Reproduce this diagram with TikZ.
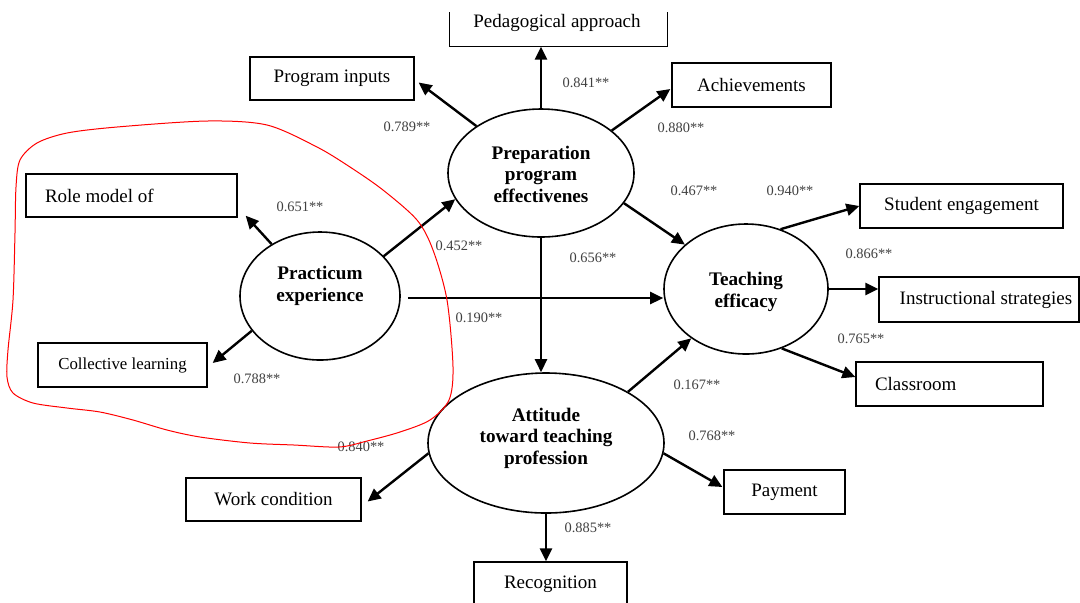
\documentclass[tikz,border=0pt]{standalone}
\usepackage{fontspec}
\setmainfont{Liberation Serif}
\usetikzlibrary{shapes.geometric,arrows.meta,calc}
\begin{document}
\begin{tikzpicture}[x=0.5pt,y=-0.5pt,
  box/.style={draw, line width=0.65pt, inner sep=0pt, font=\fontsize{9.5}{11}\selectfont},
  latent/.style={draw, ellipse, line width=0.8pt, inner sep=0pt},
  lattext/.style={align=center, inner sep=0pt, font=\fontsize{9.6}{10.75}\selectfont\bfseries},
  coef/.style={font=\fontsize{7.2}{8}\selectfont, text=black!75, inner sep=0pt},
  arr/.style={line width=1.2pt, -{Triangle[length=6.5pt,width=6pt]}},
  outline/.style={red, line width=0.5pt}]
\useasboundingbox (0,0) rectangle (1080,602);

% indicator boxes
\node[box, draw=none, minimum width=108.5pt, minimum height=16.5pt] (ped) at (558.5,29.5) {};
\draw[line width=0.65pt] (ped.north west) -- (ped.south west) -- (ped.south east) -- (ped.north east);
\node[font=\fontsize{9.5}{11}\selectfont, inner sep=0pt] (pedtxt) at (557,23) {Pedagogical approach};
\node[box, minimum width=82pt, minimum height=21.5pt] (pi) at (332,78.5) {Program inputs};
\node[box, minimum width=79.5pt, minimum height=22pt] (ach) at (751.5,85) {Achievements};
\node[box, text width=86.5pt, inner xsep=9.5pt, align=flush left, minimum height=21.5pt] (rm) at (131.5,195.5) {Role model of};
\node[box, minimum width=84.5pt, minimum height=22pt, font=\fontsize{8.4}{10}\selectfont] (cl) at (122.5,365) {Collective learning};
\node[box, minimum width=101.5pt, minimum height=22pt] (se) at (961.5,206) {Student engagement};
\node[box, minimum width=100pt, minimum height=22.5pt] (is) at (979,299.5) {\hspace*{7pt}Instructional strategies};
\node[box, text width=74.5pt, inner xsep=9.5pt, align=flush left, minimum height=22pt] (cr) at (949.5,384) {Classroom};
\node[box, minimum width=87.5pt, minimum height=21.5pt] (wc) at (273.5,499.5) {Work condition};
\node[box, minimum width=60.5pt, minimum height=22pt] (pay) at (784.5,492) {Payment};
\node[box, minimum width=76.5pt, minimum height=22pt] (rec) at (550.5,584) {Recognition};

% latent constructs
\node[latent, minimum width=80pt, minimum height=64pt] (pe) at (320,296) {};
\node[lattext] (pet) at (320,286) {Practicum\\experience};
\node[latent, minimum width=93pt, minimum height=64pt] (pp) at (541,173) {};
\node[lattext] (ppt) at (541,174) {Preparation\\program\\effectivenes};
\node[latent, minimum width=82pt, minimum height=65pt] (te) at (746,289) {};
\node[lattext] (tet) at (746,292) {Teaching\\efficacy};
\node[latent, minimum width=118pt, minimum height=70pt] (at) at (546,443) {};
\node[lattext] (att) at (546,438) {Attitude\\toward teaching\\profession};

% paths
\draw[arr] (pp.north) -- (pp.north |- ped.south);
\draw[arr] (pp.144) -- ($(pi.east)+(4,4)$);
\draw[arr] (pp.31) -- ($(ach.west)+(-1,4)$);
\draw[arr] (pp.340) -- (te.144);
\draw[arr] (pp.south) -- (pp.south |- at.north);

\draw[arr] (pe.133) -- ($(rm.south east)+(8,-2)$);
\draw[arr] (pe.207) -- ($(cl.east)+(5,-2)$);
\draw[arr] (pe.32) -- (pp.197);
\coordinate (pes) at ($(pe.east)+(7,2)$);
\draw[arr] (pes) -- (pes -| te.west);

\draw[arr] (te.60) -- (se.west);
\draw[arr] (te.east) -- (te.east -| is.west);
\draw[arr] (te.301) -- ($(cr.west)+(0,-7)$);

\draw[arr] (at.32) -- (te.222);
\draw[arr] (at.185) -- ($(wc.east)+(6,2)$);
\draw[arr] (at.355) -- ($(pay.west)+(-1,-5)$);
\draw[arr] (at.south) -- (at.south |- rec.north);

% coefficients
\node[coef] (c1) at (407,127) {0.789**};
\node[coef] (c2) at (586,83) {0.841**};
\node[coef] (c3) at (681,128) {0.880**};
\node[coef] (c4) at (300,207) {0.651**};
\node[coef] (c5) at (459,246) {0.452**};
\node[coef] (c6) at (593,258) {0.656**};
\node[coef] (c7) at (694,191) {0.467**};
\node[coef] (c8) at (790,191) {0.940**};
\node[coef] (c9) at (869,254) {0.866**};
\node[coef] (c10) at (479,318) {0.190**};
\node[coef] (c11) at (257,379) {0.788**};
\node[coef] (c12) at (861,339) {0.765**};
\node[coef] (c13) at (697,385) {0.167**};
\node[coef] (c14) at (361,447) {0.840**};
\node[coef] (c15) at (712,436) {0.768**};
\node[coef] (c16) at (588,528) {0.885**};

% hand-drawn outline around the practicum block
\draw[outline] plot[smooth cycle] coordinates {
  (207,121) (267,125) (317,147) (350,167) (383,190) (417,220) (433,250)
  (447,300) (453,367) (449,400) (430,420) (400,432) (367,441) (339,447)
  (294,445) (250,443) (200,437) (167,430) (133,420) (100,412) (67,408)
  (33,403) (13,393) (7,377) (8,350) (13,300) (15,233) (16,187) (20,160)
  (37,143) (67,133) (117,127)};
\end{tikzpicture}
\end{document}
